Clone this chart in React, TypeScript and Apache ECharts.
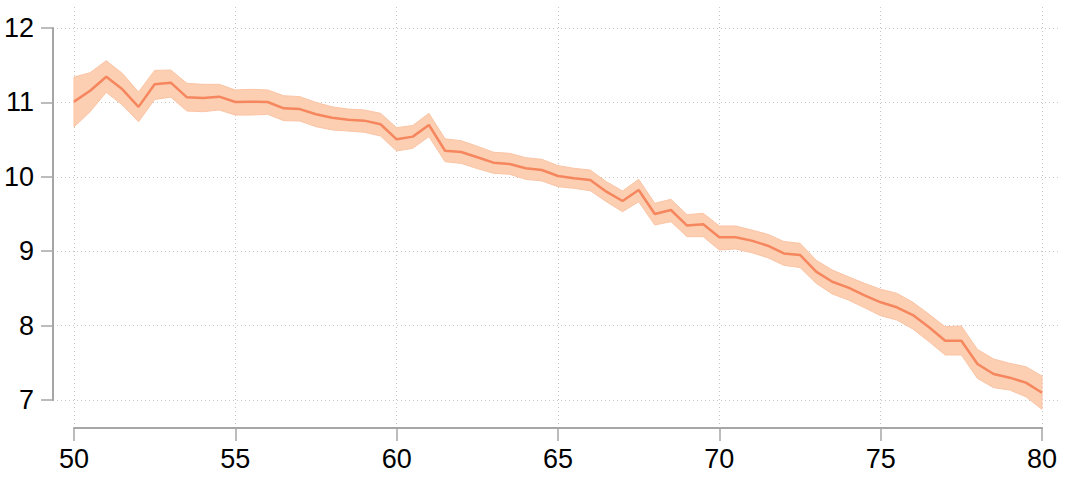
import React, { useEffect, useRef } from "react";
import * as echarts from "echarts";

const xs: number[] = [
  50, 50.5, 51, 51.5, 52, 52.5, 53, 53.5, 54, 54.5,
  55, 55.5, 56, 56.5, 57, 57.5, 58, 58.5, 59, 59.5,
  60, 60.5, 61, 61.5, 62, 62.5, 63, 63.5, 64, 64.5,
  65, 65.5, 66, 66.5, 67, 67.5, 68, 68.5, 69, 69.5,
  70, 70.5, 71, 71.5, 72, 72.5, 73, 73.5, 74, 74.5,
  75, 75.5, 76, 76.5, 77, 77.5, 78, 78.5, 79, 79.5, 80,
];

const mean: number[] = [
  11.01, 11.157, 11.345, 11.176, 10.94, 11.243, 11.265, 11.068, 11.06, 11.077,
  11.005, 11.01, 11.005, 10.92, 10.91, 10.84, 10.795, 10.768, 10.755, 10.706,
  10.504, 10.54, 10.696, 10.35, 10.333, 10.262, 10.19, 10.172, 10.114, 10.091,
  10.011, 9.98, 9.957, 9.8, 9.675, 9.823, 9.5, 9.554, 9.345, 9.361,
  9.187, 9.187, 9.142, 9.074, 8.97, 8.95, 8.725, 8.59, 8.51, 8.405,
  8.313, 8.246, 8.142, 7.977, 7.797, 7.797, 7.484, 7.35, 7.3, 7.233, 7.098,
];

const upper: number[] = [
  11.34, 11.4, 11.56, 11.39, 11.14, 11.43, 11.435, 11.256, 11.243, 11.243,
  11.167, 11.176, 11.167, 11.09, 11.077, 11.0, 10.94, 10.91, 10.898, 10.853,
  10.66, 10.69, 10.853, 10.51, 10.485, 10.41, 10.33, 10.316, 10.257, 10.235,
  10.15, 10.114, 10.09, 9.934, 9.809, 9.966, 9.644, 9.697, 9.49, 9.51,
  9.339, 9.339, 9.285, 9.227, 9.13, 9.106, 8.88, 8.747, 8.657, 8.568,
  8.488, 8.434, 8.313, 8.152, 7.985, 7.995, 7.68, 7.551, 7.493, 7.448, 7.323,
];

const lower: number[] = [
  10.67, 10.875, 11.135, 10.965, 10.74, 11.04, 11.07, 10.884, 10.875, 10.898,
  10.83, 10.83, 10.84, 10.755, 10.75, 10.674, 10.63, 10.615, 10.598, 10.548,
  10.347, 10.383, 10.54, 10.203, 10.18, 10.11, 10.047, 10.034, 9.966, 9.944,
  9.867, 9.845, 9.813, 9.665, 9.531, 9.665, 9.352, 9.397, 9.195, 9.195,
  9.016, 9.03, 8.98, 8.913, 8.81, 8.78, 8.568, 8.425, 8.344, 8.24,
  8.133, 8.075, 7.954, 7.784, 7.605, 7.605, 7.29, 7.166, 7.134, 7.044, 6.875,
];

const yTicks = { min: 7, max: 12, interval: 1 };
const xTicks = { min: 50, max: 80, interval: 5 };

const LINE = "#f5865e";
const BAND = "#fccfb3";
const BAND_EDGE = "#fbc4a4";
const AXIS = "#a6a6a6";
const GRIDC = "#c6c6c6";
const FONT = "Liberation Sans, Arial, Helvetica, sans-serif";

export default function App() {
  const ref = useRef<HTMLDivElement>(null);
  useEffect(() => {
    if (!ref.current) return;
    const chart = echarts.init(ref.current, undefined, { renderer: "svg" });
    // pixel mapping for the data grid (grid 1): y=12 at 28px, y=7 at 400px
    const pxPerY = (400 - 28) / 5;
    const dataYMax = 12 + (28 - 7) / pxPerY;
    const dataYMin = 7 - (428 - 400) / pxPerY;

    const bandData = xs.map((x, i) => [x, lower[i], upper[i]]);
    const meanData = xs.map((x, i) => [x, mean[i]]);

    chart.setOption({
      animation: false,
      backgroundColor: "#ffffff",
      grid: [
        { left: 53, right: 7, top: 28, bottom: 79, containLabel: false },
        { left: 74, right: 25, top: 7, bottom: 51, containLabel: false },
      ],
      xAxis: [
        { gridIndex: 0, type: "value", min: 0, max: 1, show: false },
        {
          gridIndex: 1,
          type: "value",
          min: xTicks.min,
          max: xTicks.max,
          interval: xTicks.interval,
          axisLine: { show: true, lineStyle: { color: AXIS, width: 2 } },
          axisTick: { show: true, inside: false, length: 13, lineStyle: { color: AXIS, width: 1.5 } },
          axisLabel: { color: "#000", fontSize: 27, fontFamily: FONT, margin: 17 },
          splitLine: { show: true, lineStyle: { color: GRIDC, type: [1, 3], width: 1 } },
        },
      ],
      yAxis: [
        {
          gridIndex: 0,
          type: "value",
          min: yTicks.min,
          max: yTicks.max,
          interval: yTicks.interval,
          axisLine: { show: true, lineStyle: { color: AXIS, width: 2 } },
          axisTick: { show: true, inside: false, length: 12, lineStyle: { color: AXIS, width: 1.5 } },
          axisLabel: { color: "#000", fontSize: 27, fontFamily: FONT, margin: 19 },
          splitLine: { show: true, lineStyle: { color: GRIDC, type: [1, 3], width: 1 } },
        },
        { gridIndex: 1, type: "value", min: dataYMin, max: dataYMax, show: false },
      ],
      series: [
        {
          type: "custom",
          xAxisIndex: 1,
          yAxisIndex: 1,
          data: bandData,
          encode: { x: 0, y: [1, 2] },
          silent: true,
          renderItem: (params: any, api: any) => {
            if (params.dataIndex !== 0) return null;
            const top = bandData.map((d) => api.coord([d[0], d[2]]));
            const bottom = bandData
              .slice()
              .reverse()
              .map((d) => api.coord([d[0], d[1]]));
            return {
              type: "polygon",
              shape: { points: top.concat(bottom) },
              style: { fill: BAND, stroke: BAND_EDGE, lineWidth: 1 },
            };
          },
        },
        {
          type: "line",
          xAxisIndex: 1,
          yAxisIndex: 1,
          data: meanData,
          symbol: "none",
          lineStyle: { color: LINE, width: 2.5 },
          silent: true,
        },
      ],
    });
    return () => chart.dispose();
  }, []);
  return (
    <div
      ref={ref}
      style={{ position: "absolute", left: 0, top: 0, width: 1067, height: 479 }}
    />
  );
}
